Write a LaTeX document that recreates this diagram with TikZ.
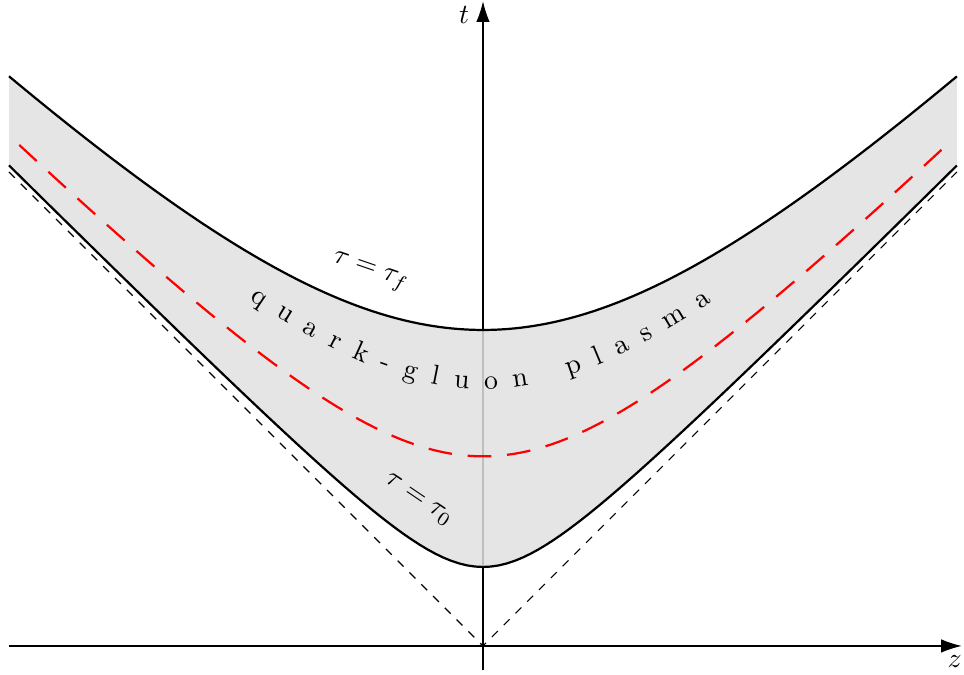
\documentclass[tikz,border=0pt]{standalone}
\usepackage{amsmath,amssymb}
\usepackage{tikz}
\usetikzlibrary{arrows.meta,decorations.text}
\usepackage{xcolor}

\begin{document}
\begin{tikzpicture}[every node/.style={font=\normalsize}]
\tikzstyle{axis}=[-{Latex[length=2.6mm,width=1.7mm]}]
\tikzstyle{hyper}=[thick, samples=121]
\useasboundingbox (-6.114,-0.367) rectangle (6.089,8.177);
\draw[axis] (-6,0) -- (6.06,0) coordinate (zend);
\draw[axis] (0,-0.3) -- (0,8.16) coordinate (tend);
\node (zlab) at (5.97,-0.2) {$z$};
\node (tlab) at (-0.24,7.99) {$t$};
\fill[black!12, fill opacity=0.85] plot[domain=-6:6, samples=121] ({\x},{sqrt(1+\x*\x)})
  -- plot[domain=6:-6, samples=121] ({\x},{sqrt(16+\x*\x)}) -- cycle;
\draw[dashed] (-6,6) -- (0,0) -- (6,6);
\draw[hyper] plot[domain=-6:6] ({\x},{sqrt(1+\x*\x)});
\draw[hyper] plot[domain=-6:6] ({\x},{sqrt(16+\x*\x)});
\draw[thick, red, dash pattern=on 3mm off 2mm] plot[domain=-5.87:5.87, samples=121] ({\x},{sqrt(5.76+\x*\x)});
\path[decorate, decoration={text along path, text={quark-gluon plasma}, text align=fit to path}]
  plot[domain=-2.95:2.9, samples=61] ({\x},{sqrt(3.25*3.25+\x*\x)});
\node[rotate=-19] (tauf) at (-1.43,4.73) {$\tau=\tau_f$};
\node[rotate=-34] (tau0) at (-0.82,1.85) {$\tau=\tau_0$};
\end{tikzpicture}
\end{document}
